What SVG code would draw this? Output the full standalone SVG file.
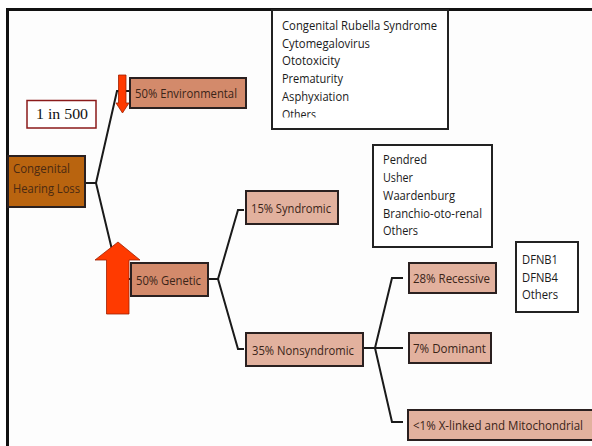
<svg xmlns="http://www.w3.org/2000/svg" width="592" height="446" viewBox="0 0 592 446">
<defs>
<style>
.t{font-family:"Open Sans","Liberation Sans",sans-serif;font-size:13.5px;fill:#3a2418}
.l{font-family:"Open Sans","Liberation Sans",sans-serif;font-size:13.5px;fill:#1a1a1a}
.box{stroke:#2a2020;stroke-width:2}
.dark{fill:#d38a6b}
.light{fill:#e2b19e}
.list{fill:#ffffff;stroke:#222;stroke-width:2}
.conn{fill:none;stroke:#1a1a1a;stroke-width:2;stroke-linejoin:miter}
.arrow{fill:#ff3a00;stroke:#a02000;stroke-width:0.8}
</style>
<clipPath id="clipEnv"><rect x="272" y="10" width="176" height="107.5"/></clipPath>
</defs>
<rect x="0" y="0" width="592" height="446" fill="#ffffff"/>
<rect x="7.5" y="9.5" width="600" height="450" fill="#fdfdfd" stroke="#111" stroke-width="3"/>

<g id="connectors">
<path class="conn" d="M85,183 H96 M96,183 L117,91 H130 M96,183 L119,279 H131"/>
<path class="conn" d="M208,279 H218 M218,279 L238,210 H244 M218,279 L238,349 H244"/>
<path class="conn" d="M363,348 H375 M375,348 L392,278 H403 M375,348 H403 M375,348 L392,422 H403"/>
</g>

<g id="congenital-hearing-loss">
<rect class="box" x="8" y="156" width="77" height="51" fill="#b9640f"/>
<text class="t" x="13" y="173" textLength="57" lengthAdjust="spacingAndGlyphs" style="fill:#4a2a12">Congenital</text>
<text class="t" x="13" y="193" textLength="67" lengthAdjust="spacingAndGlyphs" style="fill:#4a2a12">Hearing Loss</text>
</g>

<g id="incidence">
<rect x="27" y="100.5" width="69" height="27.5" fill="#ffffff" stroke="#8b1a1a" stroke-width="1.5"/>
<text x="36" y="119" font-family="Liberation Serif,serif" font-size="14.5" fill="#111" textLength="52" lengthAdjust="spacingAndGlyphs">1 in 500</text>
</g>

<g id="environmental">
<rect class="box dark" x="130" y="78" width="116" height="30"/>
<text class="t" x="135" y="97.5" textLength="102" lengthAdjust="spacingAndGlyphs">50% Environmental</text>
</g>

<g id="environmental-list">
<rect class="list" x="272" y="10" width="176" height="119"/>
<g clip-path="url(#clipEnv)">
<text class="l" x="282" y="30" textLength="155" lengthAdjust="spacingAndGlyphs">Congenital Rubella Syndrome</text>
<text class="l" x="282" y="47.5" textLength="88" lengthAdjust="spacingAndGlyphs">Cytomegalovirus</text>
<text class="l" x="282" y="65" textLength="58" lengthAdjust="spacingAndGlyphs">Ototoxicity</text>
<text class="l" x="282" y="83" textLength="61" lengthAdjust="spacingAndGlyphs">Prematurity</text>
<text class="l" x="282" y="101" textLength="67" lengthAdjust="spacingAndGlyphs">Asphyxiation</text>
<text class="l" x="282" y="119" textLength="34" lengthAdjust="spacingAndGlyphs">Others</text>
</g>
</g>

<g id="genetic">
<rect class="box dark" x="131" y="263" width="77" height="33"/>
<text class="t" x="136" y="284.5" textLength="65" lengthAdjust="spacingAndGlyphs">50% Genetic</text>
</g>

<g id="syndromic">
<rect class="box light" x="246" y="191" width="92" height="33"/>
<text class="t" x="251" y="213" textLength="80" lengthAdjust="spacingAndGlyphs">15% Syndromic</text>
</g>

<g id="syndromic-list">
<rect class="list" x="373" y="145" width="119" height="102"/>
<text class="l" x="383" y="164" textLength="44" lengthAdjust="spacingAndGlyphs">Pendred</text>
<text class="l" x="383" y="182" textLength="30" lengthAdjust="spacingAndGlyphs">Usher</text>
<text class="l" x="383" y="200" textLength="72" lengthAdjust="spacingAndGlyphs">Waardenburg</text>
<text class="l" x="383" y="217.5" textLength="99" lengthAdjust="spacingAndGlyphs">Branchio-oto-renal</text>
<text class="l" x="383" y="235" textLength="35" lengthAdjust="spacingAndGlyphs">Others</text>
</g>

<g id="nonsyndromic">
<rect class="box light" x="246" y="333" width="117" height="33"/>
<text class="t" x="252" y="354.5" textLength="102" lengthAdjust="spacingAndGlyphs">35% Nonsyndromic</text>
</g>

<g id="recessive">
<rect class="box light" x="409" y="263" width="87" height="30"/>
<text class="t" x="413" y="282.5" textLength="77" lengthAdjust="spacingAndGlyphs">28% Recessive</text>
</g>

<g id="recessive-list">
<rect class="list" x="516" y="242" width="62" height="70"/>
<text class="l" x="522" y="264" textLength="36" lengthAdjust="spacingAndGlyphs">DFNB1</text>
<text class="l" x="522" y="282" textLength="36" lengthAdjust="spacingAndGlyphs">DFNB4</text>
<text class="l" x="522" y="299" textLength="36" lengthAdjust="spacingAndGlyphs">Others</text>
</g>

<g id="dominant">
<rect class="box light" x="409" y="333" width="82" height="30"/>
<text class="t" x="413" y="353" textLength="73" lengthAdjust="spacingAndGlyphs">7% Dominant</text>
</g>

<g id="x-linked">
<rect class="box light" x="408" y="410" width="186" height="30"/>
<text class="t" transform="translate(413,430) scale(0.85,1)" x="0" y="0" textLength="200" lengthAdjust="spacingAndGlyphs">&lt;1%  X-linked and Mitochondrial</text>
</g>

<g id="arrow-down">
<polygon class="arrow" points="118.5,75 126,75 126,103 129,103 122.5,113 116,103 118.5,103"/>
</g>
<g id="arrow-up">
<polygon class="arrow" points="106.5,314 129,314 129,260 140,260 118,242 95,260 106.5,260"/>
</g>
</svg>
